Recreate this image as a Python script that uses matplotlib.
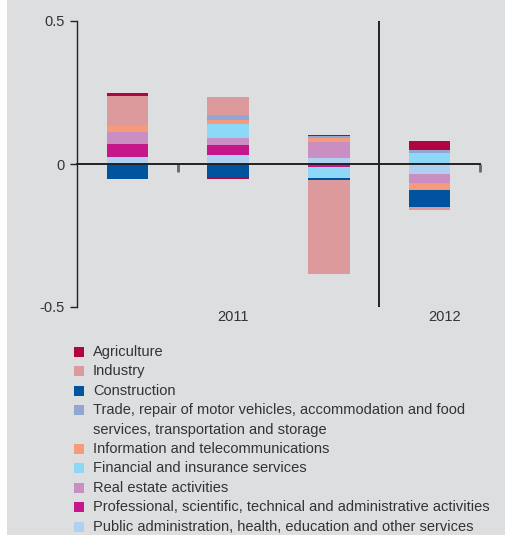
import matplotlib
matplotlib.use("Agg")
import matplotlib.pyplot as plt
from matplotlib.patches import Rectangle
from matplotlib import font_manager

# Sector contributions per bar (three 2011 bars, one 2012 bar)
sectors = [
    "Agriculture",
    "Industry",
    "Construction",
    "Trade, repair of motor vehicles, accommodation and food\nservices, transportation and storage",
    "Information and telecommunications",
    "Financial and insurance services",
    "Real estate activities",
    "Professional, scientific, technical and administrative activities",
    "Public administration, health, education and other services",
]
colors = ["#b0053f", "#dc9a9c", "#00539f", "#91a6d3", "#f59a7a",
          "#8cd8f6", "#c98fc2", "#c5168c", "#afd0ee"]

agriculture = [0.0105, -0.0035, 0.0035, 0.031]
industry = [0.105, 0.063, -0.329, -0.0105]
construction = [-0.052, -0.049, -0.007, -0.059]
trade = [0.0, 0.0175, 0.006, 0.0105]
information = [0.021, 0.014, 0.015, -0.024]
financial = [0.0, 0.049, -0.038, 0.035]
real_estate = [0.042, 0.0245, 0.056, -0.031]
professional = [0.045, 0.035, -0.0105, 0.004]
public_admin = [0.024, 0.0315, 0.021, -0.035]

series = [agriculture, industry, construction, trade, information,
          financial, real_estate, professional, public_admin]

year_labels = ["2011", "2012"]
year_label_pos = [1.05, 3.15]
y_ticks = [-0.5, 0, 0.5]
y_tick_labels = ["-0.5", "0", "0.5"]

names = {f.name for f in font_manager.fontManager.ttflist}
family = "Liberation Sans Narrow" if "Liberation Sans Narrow" in names else "Liberation Sans"
plt.rcParams["font.family"] = [family, "DejaVu Sans"]
text_color = "#333333"
bg = "#dddee0"

W, H = 506, 535
fig = plt.figure(figsize=(W / 100, H / 100), dpi=100, facecolor="white")
fig.patches.append(Rectangle((7 / W, 0), 1, 1, transform=fig.transFigure,
                             facecolor=bg, edgecolor="none", zorder=-5))

ax = fig.add_axes([77 / W, 1 - 307 / H, 403 / W, 286 / H])
ax.set_facecolor("none")
ax.set_zorder(2)

x = list(range(len(agriculture)))
pos_base = [0.0] * len(x)
neg_base = [0.0] * len(x)
# stack from the last sector upward / downward
for vals, col in zip(reversed(series), reversed(colors)):
    bottoms = [pb if v >= 0 else nb for v, pb, nb in zip(vals, pos_base, neg_base)]
    ax.bar(x, vals, width=0.41, bottom=bottoms, color=col, linewidth=0, zorder=1)
    pos_base = [pb + max(v, 0) for v, pb in zip(vals, pos_base)]
    neg_base = [nb + min(v, 0) for v, nb in zip(vals, neg_base)]

ax.set_xlim(-0.5, 3.5)
ax.set_ylim(-0.5, 0.5)
ax.axvline(2.5, color="#222222", lw=1.4, zorder=3)

for s in ["top", "right"]:
    ax.spines[s].set_visible(False)
ax.spines["bottom"].set_position(("data", 0))
ax.spines["bottom"].set_color("#222222")
ax.spines["bottom"].set_linewidth(1.4)
ax.spines["bottom"].set_zorder(3)
ax.spines["left"].set_color("#222222")
ax.spines["left"].set_linewidth(1.0)

ax.set_yticks(y_ticks)
ax.set_yticklabels(y_tick_labels)
ax.tick_params(axis="y", length=5, width=1.0, color="#222222",
               labelsize=10.5, labelcolor=text_color, pad=4)

ax.set_xticks([0.5, 3.5])
ax.set_xticklabels([])
ax.tick_params(axis="x", length=6, width=2, color="#666666")
for lbl, xp in zip(year_labels, year_label_pos):
    ax.text(xp, -0.535, lbl, ha="center", va="center", fontsize=10.5,
            color=text_color, clip_on=False)

# legend
row_y = 352
step = 19.4
for name, col in zip(sectors, colors):
    fig.patches.append(Rectangle((74 / W, 1 - (row_y + 5) / H), 10 / W, 10 / H,
                                 transform=fig.transFigure, facecolor=col,
                                 edgecolor="none"))
    for line in name.split("\n"):
        fig.text(93 / W, 1 - row_y / H, line, ha="left", va="center",
                 fontsize=10.5, color=text_color)
        row_y += step

fig.savefig("out.png", dpi=100, facecolor="white")
